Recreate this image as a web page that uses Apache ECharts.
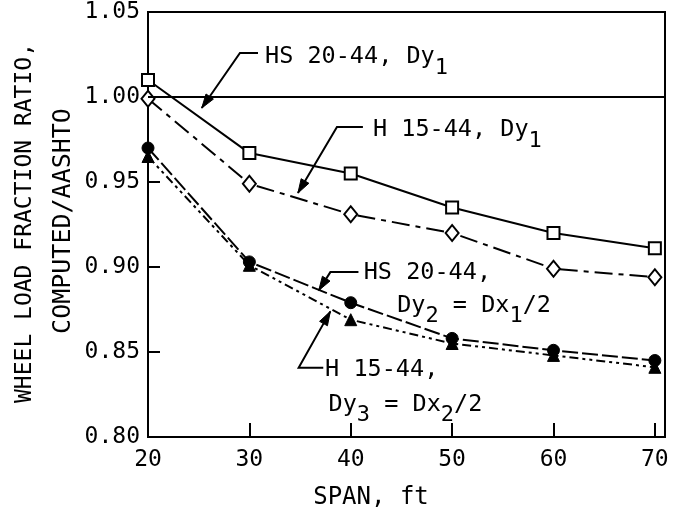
<!DOCTYPE html>
<html>
<head>
<meta charset="utf-8">
<style>html,body{margin:0;padding:0;background:#fff}#c{width:683px;height:514px}</style>
<script src="https://cdn.jsdelivr.net/npm/echarts@6/dist/echarts.min.js"></script>
</head>
<body>
<div id="c"></div>
<script>
// ---- data ----
const spans = [20, 30, 40, 50, 60, 70];
const hs20Dy1 = [1.010, 0.967, 0.955, 0.935, 0.920, 0.911];
const h15Dy1  = [0.999, 0.949, 0.931, 0.920, 0.899, 0.894];
const hs20Dy2 = [0.970, 0.903, 0.879, 0.858, 0.851, 0.845];
const h15Dy3  = [0.965, 0.901, 0.869, 0.855, 0.848, 0.841];
const xTickLabels = ['20', '30', '40', '50', '60', '70'];
const yTickLabels = ['0.80', '0.85', '0.90', '0.95', '1.00', '1.05'];

const FONT = '"DejaVu Sans Mono", "Liberation Mono", monospace';
const chart = echarts.init(document.getElementById('c'), null, {renderer: 'canvas'});

function pts(vals) { return spans.map((x, i) => [x, vals[i]]); }

const baseSeries = {type: 'line', symbolKeepAspect: true, z: 3};
chart.setOption({
  animation: false,
  backgroundColor: '#fff',
  grid: {left: 148, right: 18, top: 12, bottom: 77, show: true, borderColor: '#000', borderWidth: 2, backgroundColor: 'transparent'},
  xAxis: {
    type: 'value', min: 20, max: 71, interval: 10,
    axisLine: {lineStyle: {color: '#000', width: 2}},
    axisTick: {inside: true, length: 14, lineStyle: {color: '#000', width: 2}},
    axisLabel: {color: '#000', fontFamily: FONT, fontSize: 23, margin: 12,
      formatter: v => { const i = spans.indexOf(Math.round(v)); return (Math.abs(v - Math.round(v)) < 1e-6 && i >= 0) ? xTickLabels[i] : ''; }},
    splitLine: {show: false}
  },
  yAxis: {
    type: 'value', min: 0.80, max: 1.05, interval: 0.05,
    axisLine: {lineStyle: {color: '#000', width: 2}},
    axisTick: {inside: true, length: 12, lineStyle: {color: '#000', width: 2}},
    axisLabel: {color: '#000', fontFamily: FONT, fontSize: 23, margin: 8,
      formatter: v => yTickLabels[Math.round((v - 0.80) / 0.05)]},
    splitLine: {show: false}
  },
  series: [
    Object.assign({}, baseSeries, {
      name: 'HS 20-44, Dy1', data: pts(hs20Dy1), symbol: 'rect', symbolSize: 12,
      lineStyle: {color: '#000', width: 2, type: 'solid'},
      itemStyle: {color: '#fff', borderColor: '#000', borderWidth: 2},
      markLine: {silent: true, symbol: 'none', label: {show: false},
        lineStyle: {color: '#000', width: 2, type: 'solid'}, data: [{yAxis: 1.0}]}
    }),
    Object.assign({}, baseSeries, {
      name: 'H 15-44, Dy1', data: pts(h15Dy1), symbol: 'diamond', symbolSize: [13, 16],
      lineStyle: {color: '#000', width: 2, type: [18, 6, 5, 6]},
      itemStyle: {color: '#fff', borderColor: '#000', borderWidth: 2}
    }),
    Object.assign({}, baseSeries, {
      name: 'HS 20-44, Dy2', data: pts(hs20Dy2), symbol: 'circle', symbolSize: 12,
      lineStyle: {color: '#000', width: 2, type: [16, 4]},
      itemStyle: {color: '#000', borderColor: '#000', borderWidth: 1}
    }),
    Object.assign({}, baseSeries, {
      name: 'H 15-44, Dy3', data: pts(h15Dy3), symbol: 'triangle', symbolSize: 12,
      lineStyle: {color: '#000', width: 2, type: [9, 4, 3, 4, 3, 4]},
      itemStyle: {color: '#000', borderColor: '#000', borderWidth: 1}
    })
  ]
});

// ---- annotations (anchored in data coordinates) ----
const annotations = [
  {end: [30.85, 1.0259], elbow: [29.07, 1.0259], tip: [25.3, 0.9935],
   lines: [{at: [31.54, 1.0235], segs: [['HS 20-44, Dy'], ['1', 1]]}]},
  {end: [41.2, 0.9824], elbow: [38.64, 0.9824], tip: [34.79, 0.9435],
   lines: [{at: [42.19, 0.9806], segs: [['H 15-44, Dy'], ['1', 1]]}]},
  {end: [40.76, 0.897], elbow: [37.99, 0.897], tip: [36.84, 0.8862],
   lines: [{at: [41.28, 0.8966], segs: [['HS 20-44,']]},
           {at: [44.58, 0.8773], segs: [['Dy'], ['2', 1], [' = Dx'], ['1', 1], ['/2']]}]},
  {end: [37.29, 0.8407], elbow: [34.86, 0.8407], tip: [37.99, 0.8739],
   lines: [{at: [37.47, 0.8397], segs: [['H 15-44,']]},
           {at: [37.81, 0.819], segs: [['Dy'], ['3', 1], [' = Dx'], ['2', 1], ['/2']]}]}
];

const ANN_FS = 23.5, SUB_FS = 22, SUB_DY = 11;
const mctx = document.createElement('canvas').getContext('2d');
function tw(t, fs) { mctx.font = fs + 'px ' + FONT; return mctx.measureText(t).width; }
function P(p) { return chart.convertToPixel({gridIndex: 0}, p); }

const g = [];
annotations.forEach(a => {
  const e = P(a.end), b = P(a.elbow), t = P(a.tip);
  g.push({type: 'polyline', silent: true, z: 10, shape: {points: [e, b, t]},
    style: {stroke: '#000', lineWidth: 2, fill: null}});
  const dx = t[0] - b[0], dy = t[1] - b[1], L = Math.hypot(dx, dy);
  const ux = dx / L, uy = dy / L, px = -uy, py = ux, AL = 14, AW = 4.5;
  g.push({type: 'polygon', silent: true, z: 10, shape: {points: [
    t, [t[0] - ux * AL + px * AW, t[1] - uy * AL + py * AW], [t[0] - ux * AL - px * AW, t[1] - uy * AL - py * AW]]},
    style: {fill: '#000', stroke: '#000', lineWidth: 1}});
  a.lines.forEach(ln => {
    const o = P(ln.at); let x = o[0];
    ln.segs.forEach(s => {
      const sub = !!s[1], fs = sub ? SUB_FS : ANN_FS;
      g.push({type: 'text', silent: true, z: 10, x: x, y: o[1] + (sub ? SUB_DY : 0),
        style: {text: s[0], fontFamily: FONT, fontSize: fs, fill: '#000', align: 'left', verticalAlign: 'middle'}});
      x += tw(s[0], fs);
    });
  });
});

// axis titles
g.push({type: 'text', silent: true, x: 371, y: 498,
  style: {text: 'SPAN, ft', fontFamily: FONT, fontSize: 24, fill: '#000', align: 'center', verticalAlign: 'middle'}});
g.push({type: 'text', silent: true, x: 25, y: 223, rotation: Math.PI / 2,
  style: {text: 'WHEEL LOAD FRACTION RATIO,', fontFamily: FONT, fontSize: 23, fill: '#000', align: 'center', verticalAlign: 'middle'}});
g.push({type: 'text', silent: true, x: 63, y: 221, rotation: Math.PI / 2,
  style: {text: 'COMPUTED/AASHTO', fontFamily: FONT, fontSize: 25, fill: '#000', align: 'center', verticalAlign: 'middle'}});

chart.setOption({graphic: g});
</script>
</body>
</html>
